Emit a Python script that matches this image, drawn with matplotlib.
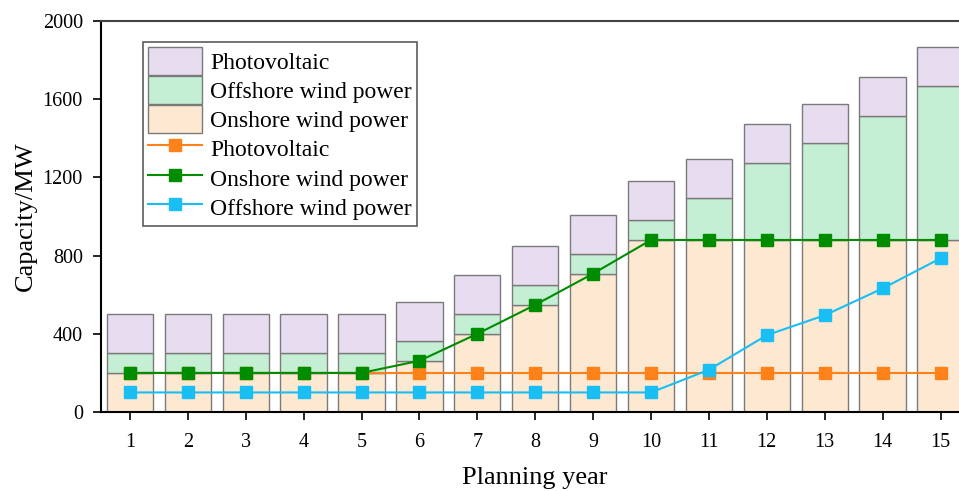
import numpy as np
import matplotlib.pyplot as plt
from matplotlib.patches import Patch
from matplotlib.lines import Line2D

plt.rcParams['font.family'] = ['Liberation Serif', 'DejaVu Serif']

years = list(range(1, 16))
onshore = [200, 200, 200, 200, 200, 262, 400, 548, 708, 880, 880, 880, 880, 880, 880]
offshore = [100, 100, 100, 100, 100, 100, 100, 100, 100, 100, 216, 393, 495, 632, 786]
photovoltaic = [200] * 15

c_pv_bar = '#E8DCF0'
c_off_bar = '#C5EFD4'
c_on_bar = '#FDE9D1'
c_pv_line = '#FF8119'
c_on_line = '#008C00'
c_off_line = '#19BEF5'

x = np.array(years)
on = np.array(onshore)
off = np.array(offshore)
pv = np.array(photovoltaic)

fig = plt.figure(figsize=(9.59, 4.91), dpi=100)
ax = fig.add_axes([0.1053, 0.1609, 0.9056, 0.7963])

w = 0.8
ec = '#7a7a7a'
ax.bar(x, on, w, color=c_on_bar, edgecolor=ec, linewidth=1.0, zorder=1)
ax.bar(x, off, w, bottom=on, color=c_off_bar, edgecolor=ec, linewidth=1.0, zorder=1)
ax.bar(x, pv, w, bottom=on + off, color=c_pv_bar, edgecolor=ec, linewidth=1.0, zorder=1)

ms = 8.5
ax.plot(x, pv, color=c_pv_line, marker='s', markersize=ms, linewidth=1.5, zorder=3)
ax.plot(x, on, color=c_on_line, marker='s', markersize=ms, linewidth=1.5, zorder=4)
ax.plot(x, off, color=c_off_line, marker='s', markersize=ms, linewidth=1.5, zorder=5)

ax.set_xlim(0.5, 15.5)
ax.set_ylim(0, 2000)
ax.set_xticks(years)
ax.set_yticks([0, 400, 800, 1200, 1600, 2000])
ax.tick_params(axis='both', direction='out', length=6, width=1.2, labelsize=14.5, pad=7)
ax.tick_params(axis='x', pad=9)
for side in ['left', 'bottom', 'top', 'right']:
    ax.spines[side].set_linewidth(1.5)
ax.spines['top'].set_color('#444444')

ax.set_xlabel('Planning year', fontsize=19, labelpad=11)
ax.set_ylabel('Capacity/MW', fontsize=19, labelpad=4)

handles = [
    Patch(facecolor=c_pv_bar, edgecolor=ec, label='Photovoltaic'),
    Patch(facecolor=c_off_bar, edgecolor=ec, label='Offshore wind power'),
    Patch(facecolor=c_on_bar, edgecolor=ec, label='Onshore wind power'),
    Line2D([], [], color=c_pv_line, marker='s', markersize=ms, label='Photovoltaic'),
    Line2D([], [], color=c_on_line, marker='s', markersize=ms, label='Onshore wind power'),
    Line2D([], [], color=c_off_line, marker='s', markersize=ms, label='Offshore wind power'),
]
leg = ax.legend(handles=handles, loc='upper left', bbox_to_anchor=(0.0484, 0.946),
                fontsize=17, frameon=True, fancybox=False, edgecolor='#333333',
                borderpad=0.2, labelspacing=0.05, handlelength=2.3, handleheight=1.45,
                handletextpad=0.35, borderaxespad=0)
leg.get_frame().set_linewidth(1.2)

fig.savefig('out.png', dpi=100)
